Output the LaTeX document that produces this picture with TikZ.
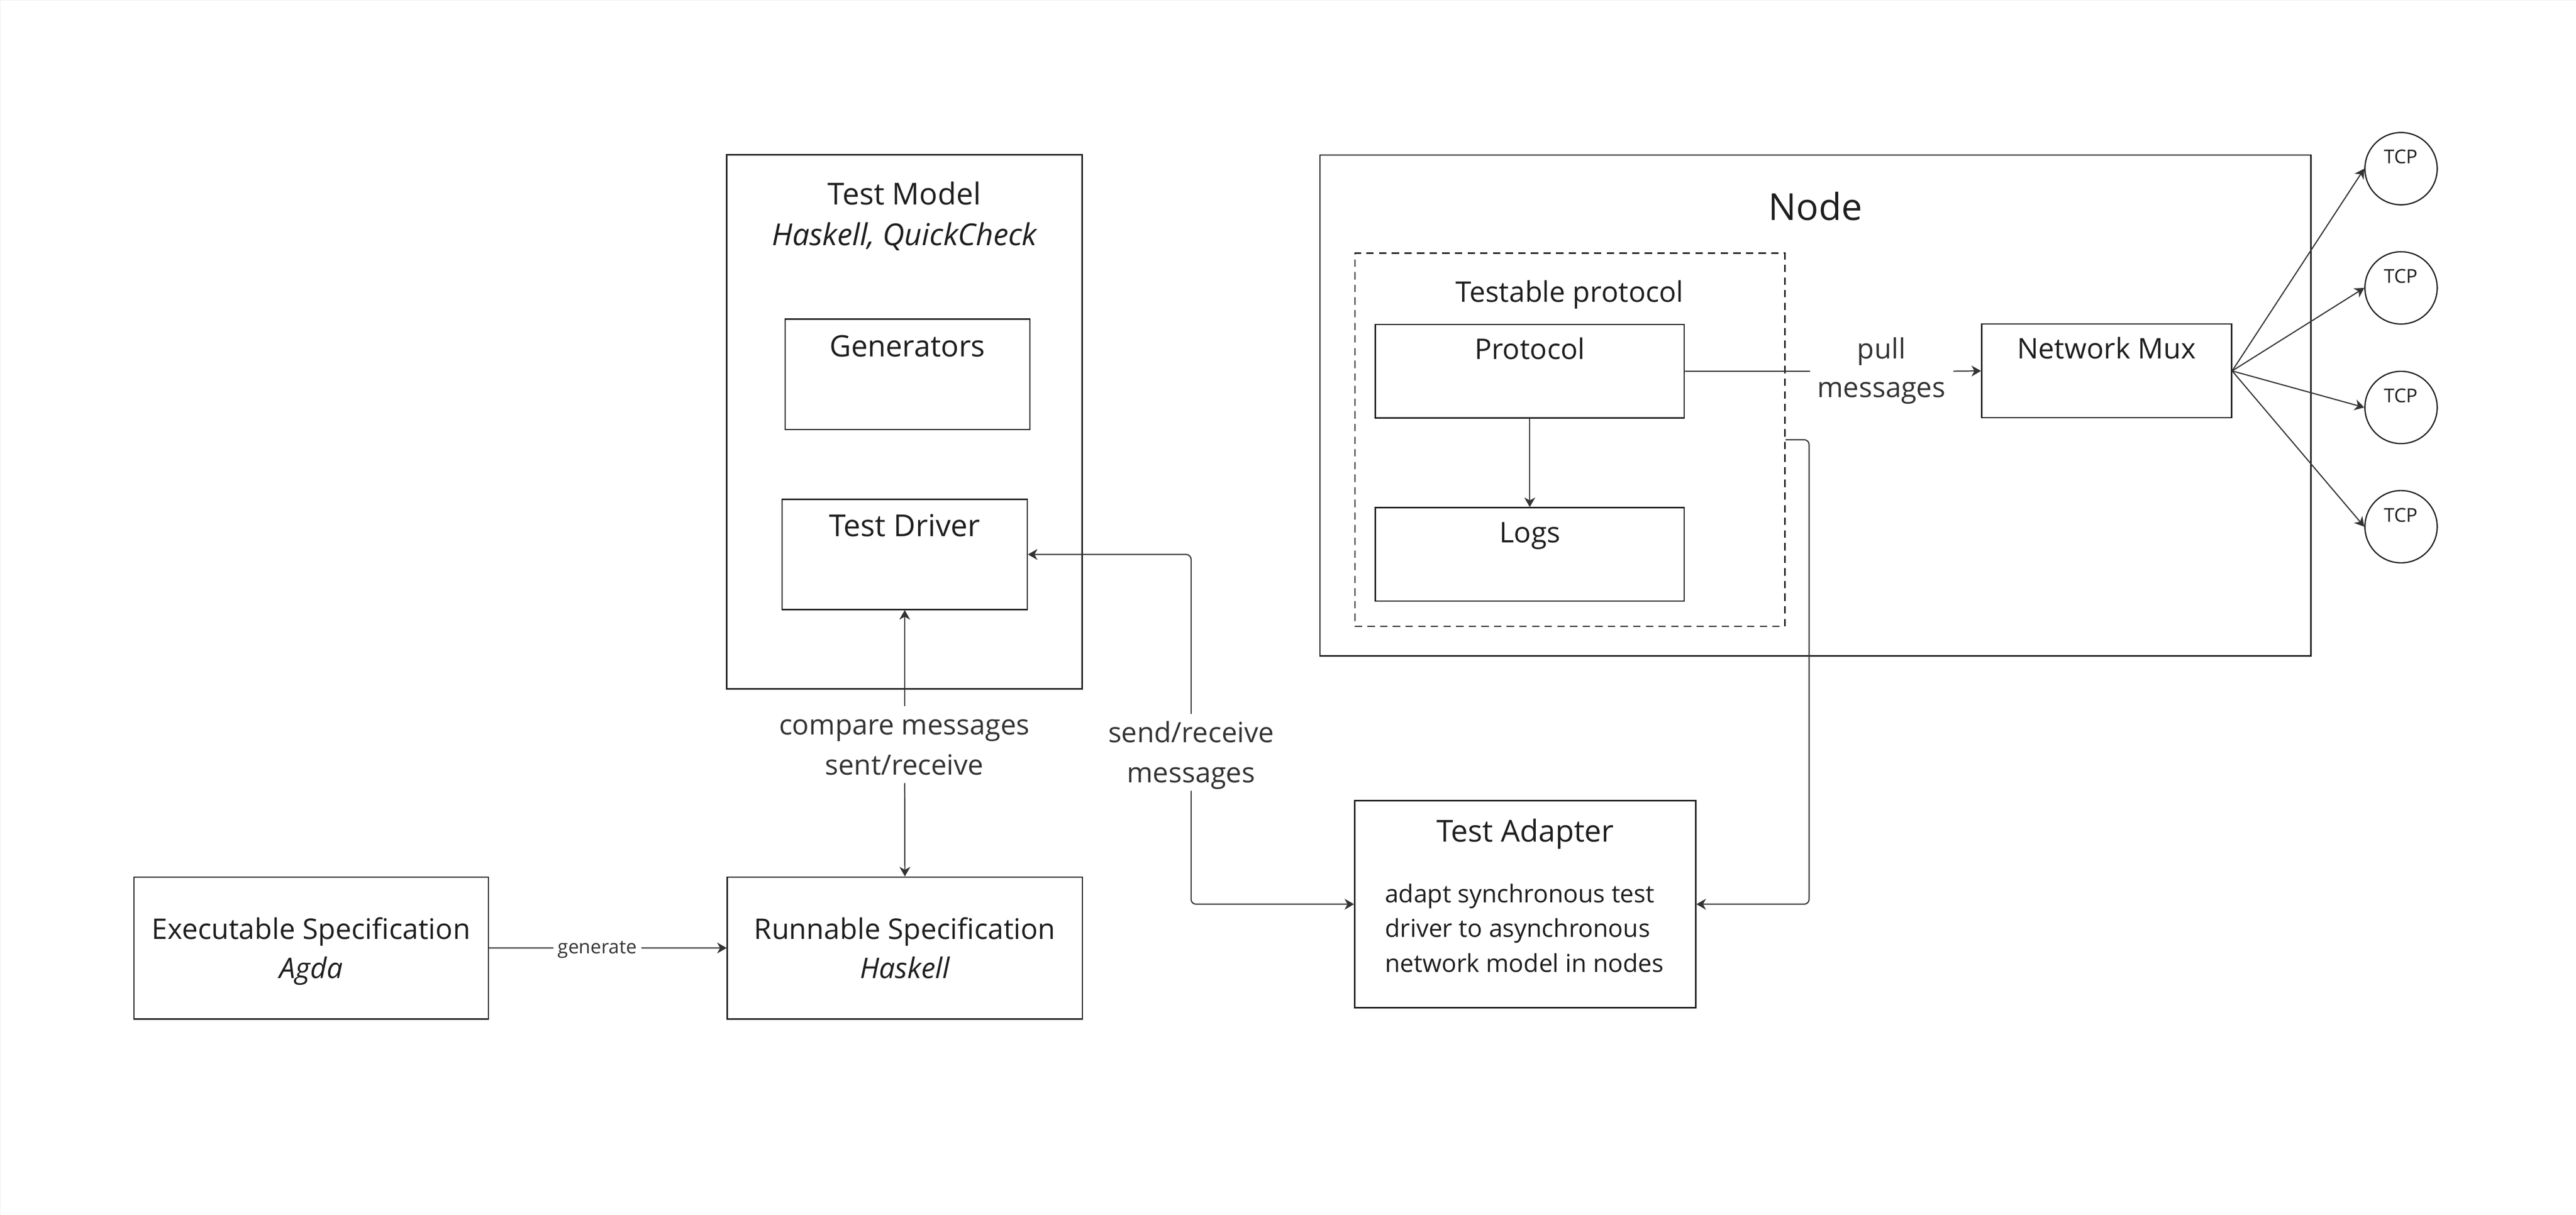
\documentclass[tikz,border=0pt]{standalone}
\usepackage{fontspec}
\setmainfont{Open Sans}
\usetikzlibrary{arrows.meta,fit}
\definecolor{ink}{HTML}{1E1E1E}
\definecolor{lnk}{HTML}{333333}
\definecolor{frame}{HTML}{EFEFEF}
\begin{document}
\begin{tikzpicture}[x=0.5pt,y=-0.5pt,
  box/.style={draw=ink,line width=0.38pt,inner sep=0pt,rectangle},
  dashbox/.style={box,dash pattern=on 2.25pt off 1.6pt},
  tcpc/.style={circle,draw=ink,line width=0.38pt,inner sep=0pt,minimum size=22pt},
  txt/.style={inner sep=0pt,anchor=base,text=ink},
  ttl/.style={txt,font=\fontsize{9.2}{11}\selectfont},
  ttn/.style={txt,font=\fontsize{8.65}{10}\selectfont},
  spc/.style={txt,font=\fontsize{8.65}{10}\selectfont},
  big/.style={txt,font=\fontsize{11.3}{14}\selectfont},
  lbl/.style={txt,text=lnk,font=\fontsize{8.5}{10}\selectfont},
  body/.style={txt,anchor=base west,font=\fontsize{7.5}{9}\selectfont},
  tiny/.style={txt,text=lnk,font=\fontsize{5.8}{7}\selectfont},
  con/.style={draw=lnk,line width=0.35pt},
  arr/.style={con,-{Stealth[length=2.9pt,width=3.3pt,inset=0.9pt]}},
  rc/.style={rounded corners=1.5pt}]
\useasboundingbox (0,0) rectangle (1568,739.63);
\draw[frame,line width=0.4pt] (0,739.63) -- (0,0) -- (1568,0);

% Test model
\node[box,fit={(442.3,94.3) (658.7,419.5)}] (tm) {};
\node[ttl] (tmt) at (550.5,124.6) {Test Model};
\node[ttl] (tms) at (550.5,149.3) {\itshape Haskell, QuickCheck};
\node[box,fit={(477.9,194.3) (626.8,261.5)}] (gen) {};
\node[ttl,font=\fontsize{9.0}{11}\selectfont] (gent) at (552.3,217.3) {Generators};
\node[box,fit={(476.1,304.1) (625.3,371.1)}] (drv) {};
\node[ttl] (drvt) at (550.7,326.7) {Test Driver};

% specifications
\node[box,fit={(81.5,534) (297.3,620.4)}] (exec) {};
\node[spc] (exect) at (189.4,572) {Executable Specification};
\node[spc] (execs) at (189.4,595.6) {\itshape Agda};
\node[box,fit={(442.7,534) (658.9,620.4)}] (run) {};
\node[spc] (runt) at (550.8,572) {Runnable Specification};
\node[spc] (runs) at (550.8,595.6) {\itshape Haskell};

% Node
\node[box,fit={(803.5,94.4) (1406.6,399.4)}] (nd) {};
\node[big] (ndt) at (1105,134) {Node};
\node[dashbox,fit={(824.7,154.1) (1086.4,381.4)}] (tp) {};
\node[ttn] (tpt) at (955.5,184) {Testable protocol};
\node[box,fit={(837.1,197.6) (1025.2,254.5)}] (proto) {};
\node[ttn] (protot) at (931.2,218.6) {Protocol};
\node[box,fit={(837.1,309.1) (1025.2,365.9)}] (logs) {};
\node[ttn] (logst) at (931.2,330.3) {Logs};
\node[box,fit={(1206.2,197.3) (1358.3,254.4)}] (mux) {};
\node[ttn] (muxt) at (1282.2,218.4) {Network Mux};

% TCP
\foreach \i/\y in {1/102.7,2/175.3,3/248.1,4/320.7}{
  \node[tcpc] (tcp\i) at (1461.5,\y) {};
  \node[tiny,text=ink] (tcpt\i) at (1461.5,\y-3) {TCP};
}

% Test adapter
\node[box,fit={(824.6,487.5) (1032.2,613.6)}] (adp) {};
\node[ttl] (adpt) at (928.4,512.5) {Test Adapter};
\node[body] (adpb1) at (842.6,549.6) {adapt synchronous test};
\node[body] (adpb2) at (842.6,570.7) {driver to asynchronous};
\node[body] (adpb3) at (842.6,591.9) {network model in nodes};

% connectors
\coordinate (genL) at (336.9,577.2);
\coordinate (genR) at (390.4,577.2);
\draw[con] (exec.east) -- (genL);
\draw[arr] (genR) -- (run.west);
\node[tiny] (genlbl) at (363.6,580.5) {generate};

\coordinate (cmpT) at (550.7,429.9);
\coordinate (cmpB) at (550.7,476.8);
\draw[arr] (cmpT) -- (drv.south);
\draw[arr] (cmpB) -- (run.north);
\node[lbl] (cmp1) at (550.5,447.2) {compare messages};
\node[lbl] (cmp2) at (550.5,471.7) {sent/receive};

\coordinate (srT) at (725,434.7);
\coordinate (srB) at (725,481.5);
\draw[arr,rc] (srT) |- (drv.east);
\draw[arr,rc] (srB) |- (adp.west);
\node[lbl] (sr1) at (725,452) {send/receive};
\node[lbl] (sr2) at (725,476.5) {messages};

\coordinate (pullL) at (1101.8,226);
\coordinate (pullR) at (1189,226);
\draw[con] (proto.east) -- (pullL);
\draw[arr] (pullR) -- (mux.west);
\node[lbl] (pull1) at (1145.2,218.4) {pull};
\node[lbl] (pull2) at (1145.2,241.8) {messages};

\draw[arr] (proto.south) -- (logs.north);
\draw[arr,rc] (tp.east) -- ++(14.4,0) |- (adp.east);

\foreach \i in {1,...,4}{\draw[arr] (mux.east) -- (tcp\i.west);}
\end{tikzpicture}
\end{document}
